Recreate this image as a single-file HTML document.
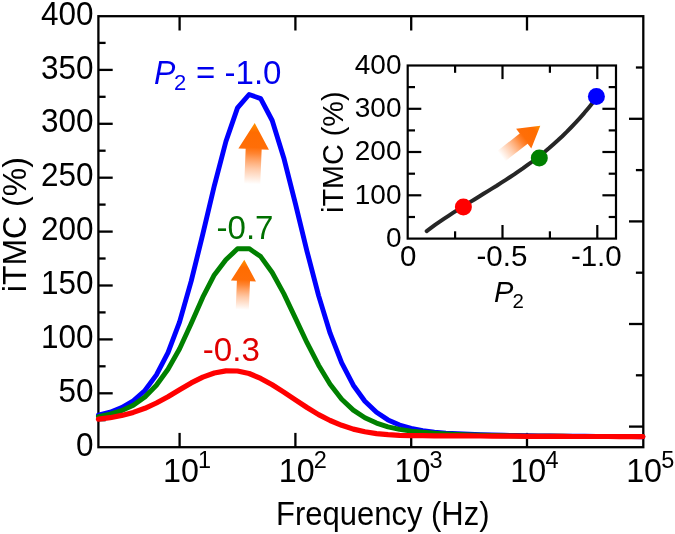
<!DOCTYPE html>
<html><head><meta charset="utf-8"><style>
html,body{margin:0;padding:0;background:#fff;}
svg{display:block;will-change:transform;}
text{font-family:"Liberation Sans",sans-serif;}
</style></head><body>
<svg width="675" height="534" viewBox="0 0 675 534">
<defs>
<linearGradient id="gu" x1="0" y1="1" x2="0" y2="0">
<stop offset="0" stop-color="#ff8a40" stop-opacity="0"/>
<stop offset="0.25" stop-color="#ff8a40" stop-opacity="0.45"/>
<stop offset="0.5" stop-color="#ff7a20" stop-opacity="0.92"/>
<stop offset="0.6" stop-color="#ff6e08" stop-opacity="1"/>
<stop offset="0.85" stop-color="#ff6c00" stop-opacity="1"/>
<stop offset="1" stop-color="#ff9400" stop-opacity="1"/>
</linearGradient>
</defs>
<rect width="675" height="534" fill="#fff"/>

<g stroke="#000" stroke-width="2.3" fill="none" stroke-linecap="butt">
<rect x="98.4" y="16.2" width="544.9" height="431.0"/>
<line x1="98.4" y1="420.2" x2="105.6" y2="420.2"/>
<line x1="98.4" y1="393.3" x2="112.7" y2="393.3"/>
<line x1="98.4" y1="366.3" x2="105.6" y2="366.3"/>
<line x1="98.4" y1="339.4" x2="112.7" y2="339.4"/>
<line x1="98.4" y1="312.4" x2="105.6" y2="312.4"/>
<line x1="98.4" y1="285.5" x2="112.7" y2="285.5"/>
<line x1="98.4" y1="258.5" x2="105.6" y2="258.5"/>
<line x1="98.4" y1="231.6" x2="112.7" y2="231.6"/>
<line x1="98.4" y1="204.6" x2="105.6" y2="204.6"/>
<line x1="98.4" y1="177.7" x2="112.7" y2="177.7"/>
<line x1="98.4" y1="150.7" x2="105.6" y2="150.7"/>
<line x1="98.4" y1="123.8" x2="112.7" y2="123.8"/>
<line x1="98.4" y1="96.8" x2="105.6" y2="96.8"/>
<line x1="98.4" y1="69.9" x2="112.7" y2="69.9"/>
<line x1="98.4" y1="42.9" x2="105.6" y2="42.9"/>
<line x1="643.3" y1="67.5" x2="635.9" y2="67.5"/>
<line x1="643.3" y1="118.8" x2="629.0" y2="118.8"/>
<line x1="643.3" y1="170.1" x2="635.9" y2="170.1"/>
<line x1="643.3" y1="221.4" x2="629.0" y2="221.4"/>
<line x1="643.3" y1="272.7" x2="635.9" y2="272.7"/>
<line x1="643.3" y1="324.0" x2="629.0" y2="324.0"/>
<line x1="643.3" y1="375.3" x2="635.9" y2="375.3"/>
<line x1="643.3" y1="426.6" x2="629.0" y2="426.6"/>
<line x1="179.6" y1="16.2" x2="179.6" y2="30.5"/>
<line x1="179.6" y1="447.2" x2="179.6" y2="432.9"/>
<line x1="295.4" y1="16.2" x2="295.4" y2="30.5"/>
<line x1="295.4" y1="447.2" x2="295.4" y2="432.9"/>
<line x1="411.2" y1="16.2" x2="411.2" y2="30.5"/>
<line x1="411.2" y1="447.2" x2="411.2" y2="432.9"/>
<line x1="527.0" y1="16.2" x2="527.0" y2="30.5"/>
<line x1="527.0" y1="447.2" x2="527.0" y2="432.9"/>
</g>
<polyline points="98.4,415.2 110.1,412.2 121.7,407.6 133.3,400.8 144.9,390.5 156.4,374.9 168.0,352.6 179.6,321.8 191.2,281.2 202.8,234.2 214.3,185.8 225.9,141.5 237.5,107.9 249.1,94.5 260.7,98.6 272.2,120.5 283.8,157.9 295.4,203.6 307.0,251.3 318.6,295.6 330.1,333.2 341.7,362.9 353.3,385.2 364.9,401.2 376.5,412.3 388.0,419.9 399.6,425.0 411.2,428.3 422.8,430.6 434.4,432.1 445.9,433.1 457.5,433.8 469.1,434.3 480.7,434.7 492.3,435.0 503.8,435.3 515.4,435.5 527.0,435.7 538.6,435.9 550.2,436.0 561.7,436.1 573.3,436.2 584.9,436.3 596.5,436.4 608.1,436.5 619.6,436.5 631.2,436.6 642.8,436.7" fill="none" stroke="#0000ff" stroke-width="4.9" stroke-linejoin="round" stroke-linecap="round"/>
<polyline points="98.4,416.6 110.1,414.2 121.7,410.6 133.3,405.2 144.9,397.0 156.4,385.2 168.0,369.2 179.6,348.8 191.2,323.6 202.8,297.2 214.3,274.9 225.9,259.8 237.5,248.8 249.1,248.6 260.7,256.6 272.2,272.5 283.8,293.6 295.4,318.1 307.0,342.7 318.6,365.2 330.1,384.3 341.7,399.2 353.3,410.1 364.9,417.8 376.5,423.1 388.0,426.8 399.6,429.3 411.2,431.1 422.8,432.3 434.4,433.2 445.9,433.9 457.5,434.4 469.1,434.9 480.7,435.2 492.3,435.5 503.8,435.8 515.4,436.0 527.0,436.1 538.6,436.2 550.2,436.3 561.7,436.3 573.3,436.4 584.9,436.4 596.5,436.4 608.1,436.4 619.6,436.4 631.2,436.4 642.8,436.5" fill="none" stroke="#008000" stroke-width="4.9" stroke-linejoin="round" stroke-linecap="round"/>
<polyline points="98.4,419.2 110.1,417.7 121.7,415.4 133.3,412.4 144.9,408.3 156.4,403.0 168.0,396.8 179.6,389.8 191.2,382.9 202.8,377.1 214.3,373.0 225.9,370.9 237.5,371.0 249.1,373.5 260.7,378.4 272.2,384.8 283.8,392.1 295.4,399.8 307.0,407.5 318.6,414.6 330.1,420.5 341.7,425.3 353.3,429.1 364.9,431.8 376.5,433.6 388.0,434.7 399.6,435.3 411.2,435.6 422.8,435.7 434.4,435.8 445.9,435.8 457.5,435.9 469.1,435.9 480.7,436.0 492.3,436.1 503.8,436.2 515.4,436.2 527.0,436.3 538.6,436.3 550.2,436.4 561.7,436.4 573.3,436.5 584.9,436.5 596.5,436.5 608.1,436.5 619.6,436.6 631.2,436.6 642.8,436.6" fill="none" stroke="#ff0000" stroke-width="5.2" stroke-linejoin="round" stroke-linecap="round"/>
<g font-size="31.5" fill="#000" text-anchor="end">
<text transform="translate(93.5,455.8) scale(1,1.040)">0</text>
<text transform="translate(93.5,401.9) scale(1,1.040)">50</text>
<text transform="translate(93.5,348.0) scale(1,1.040)">100</text>
<text transform="translate(93.5,294.1) scale(1,1.040)">150</text>
<text transform="translate(93.5,240.2) scale(1,1.040)">200</text>
<text transform="translate(93.5,186.3) scale(1,1.040)">250</text>
<text transform="translate(93.5,132.4) scale(1,1.040)">300</text>
<text transform="translate(93.5,78.5) scale(1,1.040)">350</text>
<text transform="translate(93.5,24.6) scale(1,1.040)">400</text>
</g>
<text transform="translate(180.9,481.9) scale(1,1.040)" font-size="32.3" text-anchor="middle">10</text>
<text transform="translate(198.0,467.8) scale(1,1.040)" font-size="23.5">1</text>
<text transform="translate(296.7,481.9) scale(1,1.040)" font-size="32.3" text-anchor="middle">10</text>
<text transform="translate(313.8,467.8) scale(1,1.040)" font-size="23.5">2</text>
<text transform="translate(412.5,481.9) scale(1,1.040)" font-size="32.3" text-anchor="middle">10</text>
<text transform="translate(429.6,467.8) scale(1,1.040)" font-size="23.5">3</text>
<text transform="translate(528.3,481.9) scale(1,1.040)" font-size="32.3" text-anchor="middle">10</text>
<text transform="translate(545.4,467.8) scale(1,1.040)" font-size="23.5">4</text>
<text transform="translate(644.1,481.9) scale(1,1.040)" font-size="32.3" text-anchor="middle">10</text>
<text transform="translate(661.2,467.8) scale(1,1.040)" font-size="23.5">5</text>
<text transform="translate(276,524.8) scale(1,1.040)" font-size="32" textLength="213.5" lengthAdjust="spacingAndGlyphs">Frequency (Hz)</text>
<text transform="translate(25.9,224.7) rotate(-90) scale(1,1.040)" font-size="32" text-anchor="middle">iTMC (%)</text>
<text transform="translate(154,83.8) scale(1,1.040)" font-size="32" fill="#0000ee" font-style="italic">P</text>
<text transform="translate(174,90.2) scale(1,1.040)" font-size="22" fill="#0000ee">2</text>
<text transform="translate(196.1,83.8) scale(1,1.040)" font-size="32" fill="#0000ee" textLength="85.4" lengthAdjust="spacingAndGlyphs">= -1.0</text>
<text transform="translate(216.5,238.7) scale(1,1.040)" font-size="31.5" fill="#007000" textLength="57" lengthAdjust="spacingAndGlyphs">-0.7</text>
<text transform="translate(202.8,361.2) scale(1,1.040)" font-size="31.5" fill="#e00000" textLength="57" lengthAdjust="spacingAndGlyphs">-0.3</text>
<g transform="translate(254.70,123.10) rotate(2.30) scale(1.000)"><path d="M0,0 L15.30,26.00 L8.00,26.00 L8.00,61.00 L-8.00,61.00 L-8.00,26.00 L-15.30,26.00 Z" fill="url(#gu)"/></g>
<g transform="translate(244.30,259.80) rotate(2.30) scale(0.820)"><path d="M0,0 L15.30,26.00 L8.00,26.00 L8.00,61.00 L-8.00,61.00 L-8.00,26.00 L-15.30,26.00 Z" fill="url(#gu)"/></g>
<g stroke="#000" stroke-width="2.2" fill="none" stroke-linecap="butt">
<rect x="407.7" y="65.5" width="208.3" height="173.1"/>
<line x1="407.7" y1="217.0" x2="415.0" y2="217.0"/>
<line x1="616.0" y1="217.0" x2="608.7" y2="217.0"/>
<line x1="407.7" y1="195.3" x2="421.3" y2="195.3"/>
<line x1="616.0" y1="195.3" x2="602.4" y2="195.3"/>
<line x1="407.7" y1="173.7" x2="415.0" y2="173.7"/>
<line x1="616.0" y1="173.7" x2="608.7" y2="173.7"/>
<line x1="407.7" y1="152.0" x2="421.3" y2="152.0"/>
<line x1="616.0" y1="152.0" x2="602.4" y2="152.0"/>
<line x1="407.7" y1="130.4" x2="415.0" y2="130.4"/>
<line x1="616.0" y1="130.4" x2="608.7" y2="130.4"/>
<line x1="407.7" y1="108.8" x2="421.3" y2="108.8"/>
<line x1="616.0" y1="108.8" x2="602.4" y2="108.8"/>
<line x1="407.7" y1="87.1" x2="415.0" y2="87.1"/>
<line x1="616.0" y1="87.1" x2="608.7" y2="87.1"/>
<line x1="455.1" y1="65.5" x2="455.1" y2="72.8"/>
<line x1="455.1" y1="238.6" x2="455.1" y2="231.3"/>
<line x1="502.5" y1="65.5" x2="502.5" y2="79.1"/>
<line x1="502.5" y1="238.6" x2="502.5" y2="225.0"/>
<line x1="549.9" y1="65.5" x2="549.9" y2="72.8"/>
<line x1="549.9" y1="238.6" x2="549.9" y2="231.3"/>
<line x1="597.3" y1="65.5" x2="597.3" y2="79.1"/>
<line x1="597.3" y1="238.6" x2="597.3" y2="225.0"/>
</g>
<g font-size="28" fill="#000" text-anchor="end">
<text transform="translate(401.5,246.8) scale(1,1.020)">0</text>
<text transform="translate(401.5,203.5) scale(1,1.020)">100</text>
<text transform="translate(401.5,160.2) scale(1,1.020)">200</text>
<text transform="translate(401.5,117.0) scale(1,1.020)">300</text>
<text transform="translate(401.5,73.7) scale(1,1.020)">400</text>
</g>
<g font-size="29.5" fill="#000" text-anchor="middle">
<text transform="translate(408.1,265.8) scale(1,1.020)">0</text>
<text transform="translate(501.9,265.8) scale(1,1.020)">-0.5</text>
<text transform="translate(596.3,265.8) scale(1,1.020)">-1.0</text>
</g>
<text transform="translate(494,301.6) scale(1,1.020)" font-size="29" font-style="italic">P</text>
<text transform="translate(512.5,307.6) scale(1,1.020)" font-size="20.5">2</text>
<text transform="translate(343.1,152.2) rotate(-90) scale(1,1.020)" font-size="28.8" text-anchor="middle">iTMC (%)</text>
<polyline points="426.7,231.1 431.0,227.9 435.4,224.7 439.8,221.7 444.2,218.7 448.5,215.8 452.9,212.9 457.3,210.1 461.7,207.3 466.0,204.6 470.4,201.9 474.8,199.2 479.2,196.5 483.5,193.8 487.9,191.1 492.3,188.4 496.7,185.7 501.0,182.9 505.4,180.1 509.8,177.3 514.2,174.4 518.5,171.4 522.9,168.4 527.3,165.2 531.7,162.0 536.0,158.7 540.4,155.2 544.8,151.7 549.2,148.0 553.5,144.2 557.9,140.3 562.3,136.2 566.7,131.9 571.0,127.5 575.4,122.9 579.8,118.1 584.2,113.1 588.5,107.9 592.9,102.5 597.3,96.9" fill="none" stroke="#262626" stroke-width="4" stroke-linecap="round" stroke-linejoin="round"/>
<circle cx="463.4" cy="207" r="8.5" fill="#ff0000"/>
<circle cx="539.3" cy="158" r="8.5" fill="#008000"/>
<circle cx="596.4" cy="96.5" r="8.5" fill="#0000ff"/>
<g transform="translate(540.30,125.70) rotate(52.10) scale(0.810)"><path d="M0,0 L15.30,26.00 L8.00,26.00 L8.00,61.00 L-8.00,61.00 L-8.00,26.00 L-15.30,26.00 Z" fill="url(#gu)"/></g>
</svg></body></html>
